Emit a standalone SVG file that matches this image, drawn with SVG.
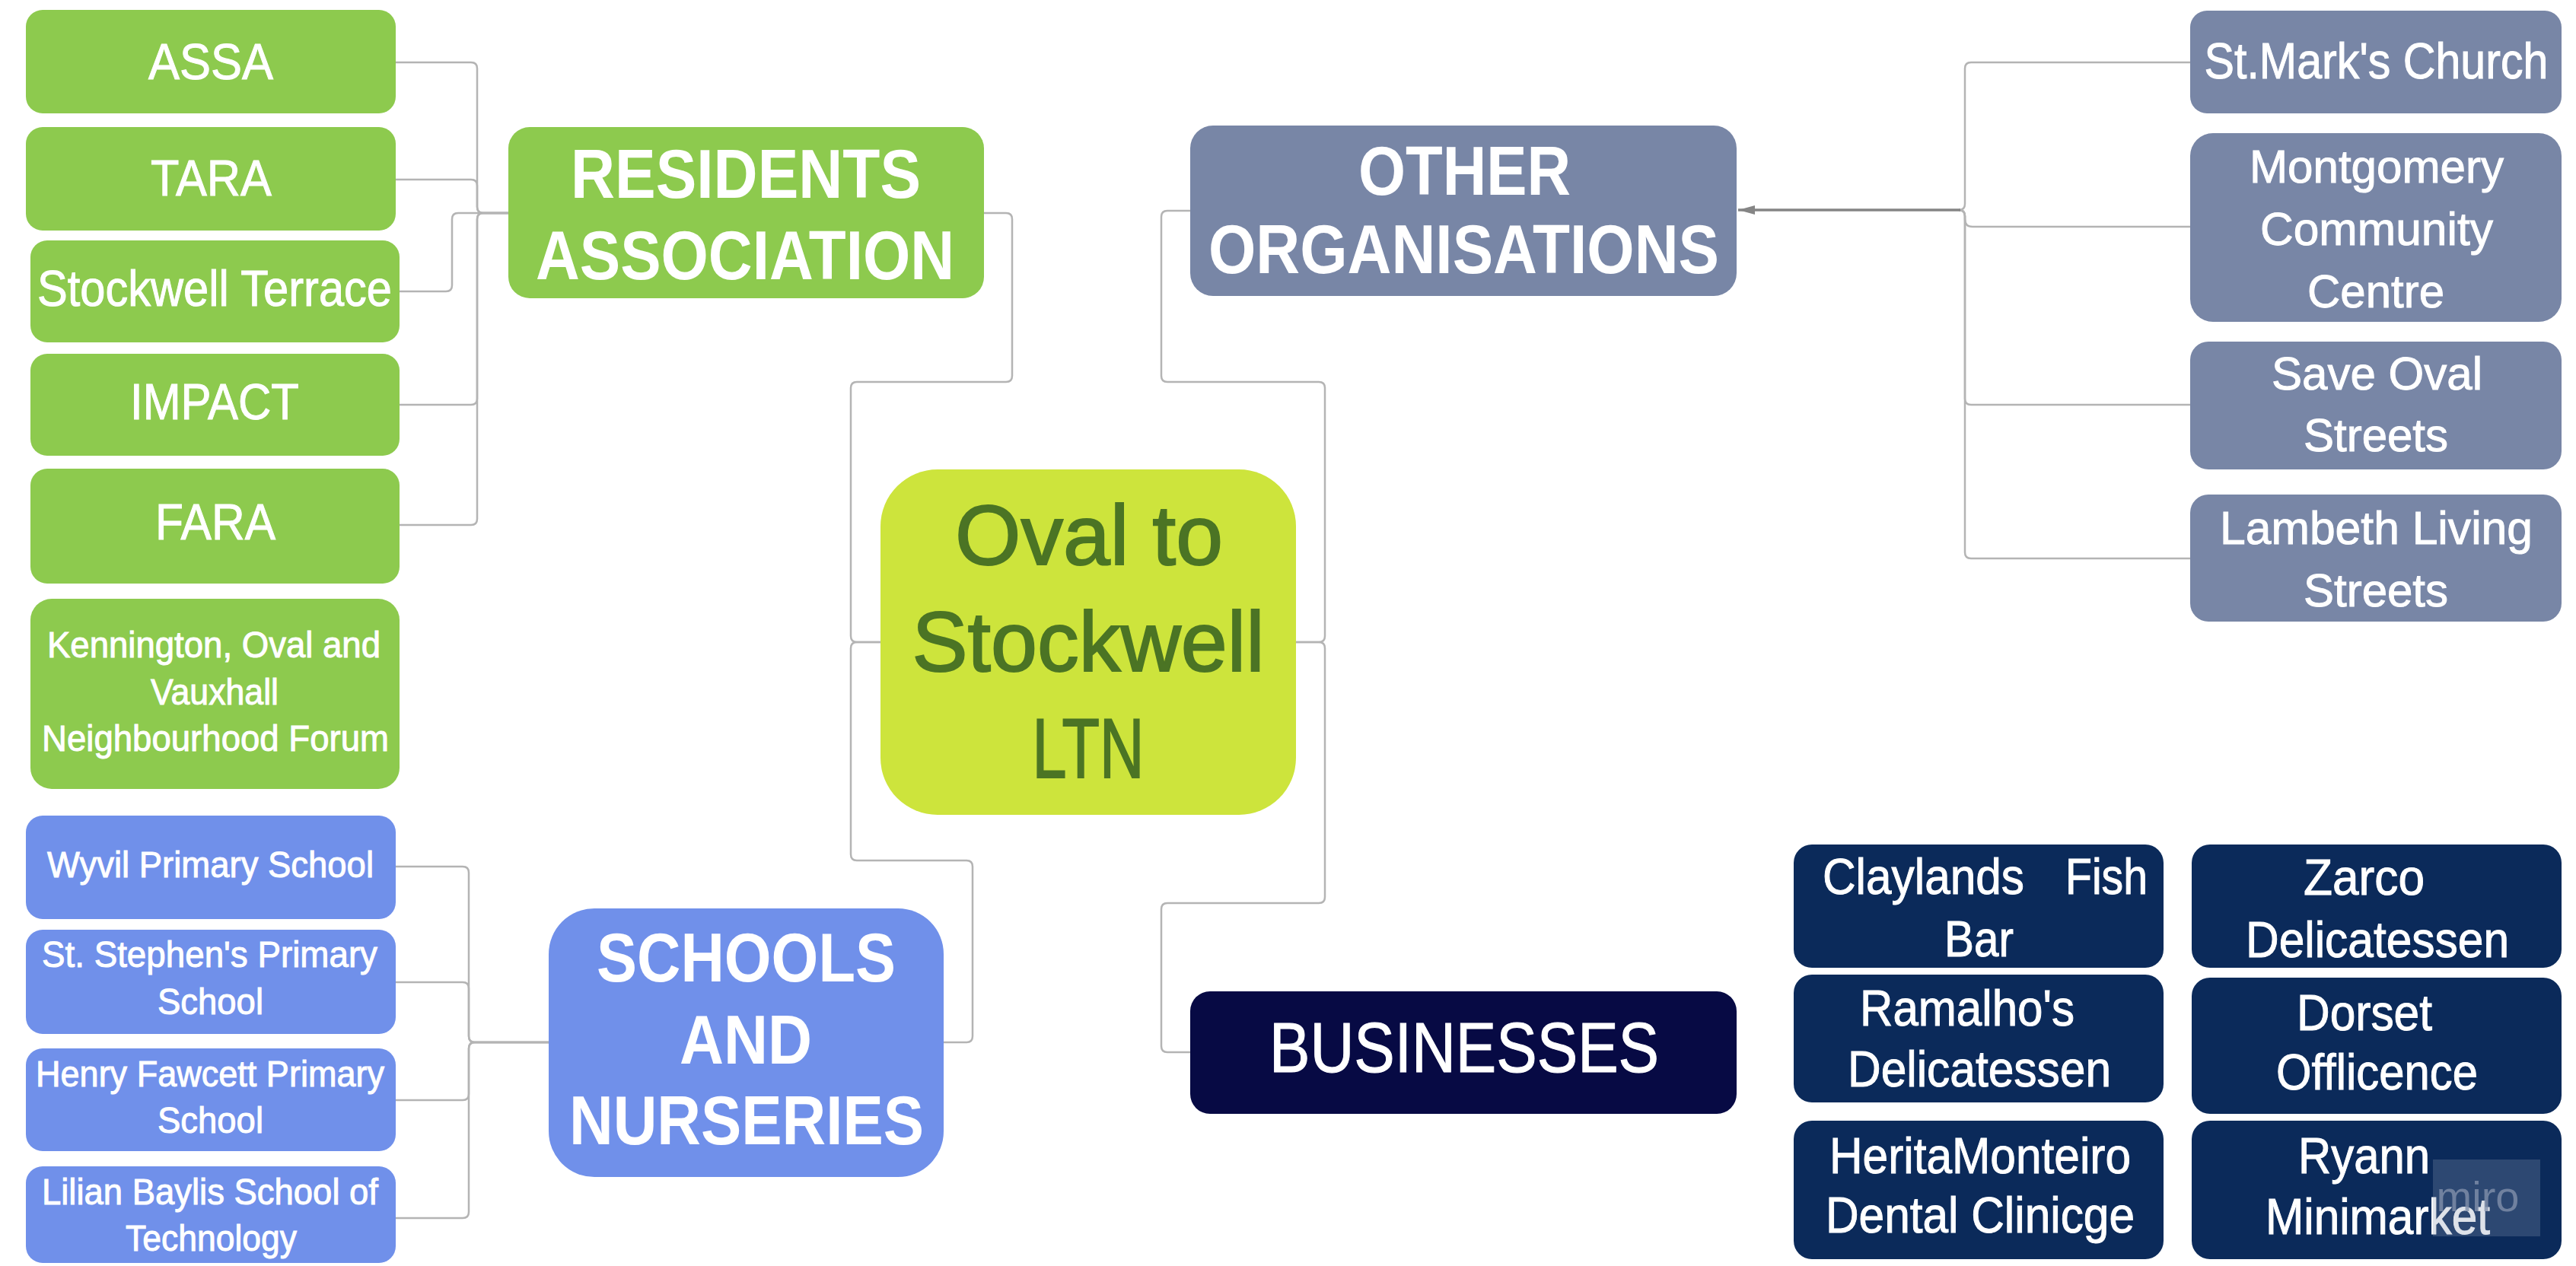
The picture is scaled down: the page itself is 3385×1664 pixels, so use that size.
<svg xmlns="http://www.w3.org/2000/svg" width="3385" height="1664" viewBox="0 0 3385 1664">
<defs>
<style>
text{font-family:"Liberation Sans Narrow","Liberation Sans",Arial,sans-serif;text-anchor:middle;fill:#fff;stroke:#fff;stroke-width:1}
.c{fill:none;stroke:#b4b4b4;stroke-width:2.5}
.ca{fill:none;stroke:#858585;stroke-width:3.5}
.g{fill:#8dca4e}
.b{fill:#7090ea}
.s{fill:#7886a6}
.n{fill:#0b2a5a}
.t66{font-size:66px}
.t62{font-size:62px}
.t49{font-size:49px}
.h{font-size:90px;font-weight:bold;stroke-width:0}
.o{font-size:112px;fill:#4b7424;stroke:#4b7424;stroke-width:2}
.w{font-size:56px;fill:#8190ab;stroke-width:0}
</style>
<marker id="arr" markerUnits="userSpaceOnUse" markerWidth="24" markerHeight="12" refX="22" refY="6" orient="auto">
<path d="M0,0 L22,6 L0,12 z" fill="#858585"/>
</marker>
</defs>
<rect width="3385" height="1664" fill="#fff"/>

<g id="connectors">
<path class="c" d="M668,280 H635 Q627,280 627,272 V90 Q627,82 619,82 H520"/>
<path class="c" d="M668,280 H635 Q627,280 627,272 V244 Q627,236 619,236 H520"/>
<path class="c" d="M668,280 H602 Q594,280 594,288 V375 Q594,383 586,383 H525"/>
<path class="c" d="M668,280 H635 Q627,280 627,288 V524 Q627,532 619,532 H525"/>
<path class="c" d="M668,280 H635 Q627,280 627,288 V682 Q627,690 619,690 H525"/>
<path class="c" d="M721,1370 H624 Q616,1370 616,1362 V1147 Q616,1139 608,1139 H520"/>
<path class="c" d="M721,1370 H624 Q616,1370 616,1362 V1299 Q616,1291 608,1291 H520"/>
<path class="c" d="M721,1370 H624 Q616,1370 616,1378 V1438 Q616,1446 608,1446 H520"/>
<path class="c" d="M721,1370 H624 Q616,1370 616,1378 V1593 Q616,1601 608,1601 H520"/>
<path class="c" d="M1157,844 H1126 Q1118,844 1118,836 V510 Q1118,502 1126,502 H1322 Q1330,502 1330,494 V288 Q1330,280 1322,280 H1293"/>
<path class="c" d="M1157,844 H1126 Q1118,844 1118,852 V1123 Q1118,1131 1126,1131 H1270 Q1278,1131 1278,1139 V1362 Q1278,1370 1270,1370 H1240"/>
<path class="c" d="M1703,844 H1733 Q1741,844 1741,836 V510 Q1741,502 1733,502 H1534 Q1526,502 1526,494 V285 Q1526,277 1534,277 H1564"/>
<path class="c" d="M1703,844 H1733 Q1741,844 1741,852 V1179 Q1741,1187 1733,1187 H1534 Q1526,1187 1526,1195 V1375 Q1526,1383 1534,1383 H1564"/>
<path class="c" d="M2878,82 H2590 Q2582,82 2582,90 V268 Q2582,276 2574,276"/>
<path class="c" d="M2878,298 H2592 Q2582,298 2582,288 V284 Q2582,276 2574,276"/>
<path class="c" d="M2878,532 H2590 Q2582,532 2582,524 V284 Q2582,276 2574,276"/>
<path class="c" d="M2878,734 H2590 Q2582,734 2582,726 V284 Q2582,276 2574,276"/>
<path class="ca" d="M2576,276 H2284" marker-end="url(#arr)"/>
</g>

<g id="assa"><rect class="g" x="34" y="13" width="486" height="136" rx="22"/><text class="t66" x="277" y="104" textLength="164" lengthAdjust="spacingAndGlyphs">ASSA</text></g>
<g id="tara"><rect class="g" x="34" y="167" width="486" height="136" rx="22"/><text class="t66" x="277.5" y="257" textLength="159" lengthAdjust="spacingAndGlyphs">TARA</text></g>
<g id="stockwell-terrace"><rect class="g" x="40" y="316" width="485" height="134" rx="22"/><text class="t66" x="282" y="402" textLength="466" lengthAdjust="spacingAndGlyphs">Stockwell Terrace</text></g>
<g id="impact"><rect class="g" x="40" y="465" width="485" height="134" rx="22"/><text class="t66" x="282" y="551" textLength="222" lengthAdjust="spacingAndGlyphs">IMPACT</text></g>
<g id="fara"><rect class="g" x="40" y="616" width="485" height="151" rx="22"/><text class="t66" x="283" y="709" textLength="158" lengthAdjust="spacingAndGlyphs">FARA</text></g>
<g id="kennington"><rect class="g" x="40" y="787" width="485" height="250" rx="28"/>
<text class="t49" x="281" y="864" textLength="438" lengthAdjust="spacingAndGlyphs">Kennington, Oval and</text>
<text class="t49" x="282" y="926" textLength="168" lengthAdjust="spacingAndGlyphs">Vauxhall</text>
<text class="t49" x="283" y="987" textLength="456" lengthAdjust="spacingAndGlyphs">Neighbourhood Forum</text></g>

<g id="residents"><rect class="g" x="668" y="167" width="625" height="225" rx="28"/>
<text class="h" x="980" y="260" textLength="460" lengthAdjust="spacingAndGlyphs">RESIDENTS</text>
<text class="h" x="979" y="367" textLength="550" lengthAdjust="spacingAndGlyphs">ASSOCIATION</text></g>

<g id="wyvil"><rect class="b" x="34" y="1072" width="486" height="136" rx="22"/><text class="t49" x="276.5" y="1153" textLength="429" lengthAdjust="spacingAndGlyphs">Wyvil Primary School</text></g>
<g id="st-stephens"><rect class="b" x="34" y="1222" width="486" height="137" rx="22"/>
<text class="t49" x="275.5" y="1271" textLength="441" lengthAdjust="spacingAndGlyphs">St. Stephen's Primary</text>
<text class="t49" x="276.5" y="1333" textLength="139" lengthAdjust="spacingAndGlyphs">School</text></g>
<g id="henry-fawcett"><rect class="b" x="34" y="1378" width="486" height="135" rx="22"/>
<text class="t49" x="276" y="1428" textLength="458" lengthAdjust="spacingAndGlyphs">Henry Fawcett Primary</text>
<text class="t49" x="276.5" y="1489" textLength="139" lengthAdjust="spacingAndGlyphs">School</text></g>
<g id="lilian-baylis"><rect class="b" x="34" y="1533" width="486" height="127" rx="22"/>
<text class="t49" x="276" y="1583" textLength="442" lengthAdjust="spacingAndGlyphs">Lilian Baylis School of</text>
<text class="t49" x="277.5" y="1644" textLength="225" lengthAdjust="spacingAndGlyphs">Technology</text></g>

<g id="schools"><rect class="b" x="721" y="1194" width="519" height="353" rx="60"/>
<text class="h" x="980.5" y="1290" textLength="393" lengthAdjust="spacingAndGlyphs">SCHOOLS</text>
<text class="h" x="980" y="1398" textLength="174" lengthAdjust="spacingAndGlyphs">AND</text>
<text class="h" x="981" y="1504" textLength="466" lengthAdjust="spacingAndGlyphs">NURSERIES</text></g>

<g id="oval"><rect x="1157" y="617" width="546" height="454" rx="75" fill="#cde43c"/>
<text class="o" x="1431" y="742" textLength="352" lengthAdjust="spacingAndGlyphs">Oval to</text>
<text class="o" x="1430" y="882" textLength="463" lengthAdjust="spacingAndGlyphs">Stockwell</text>
<text class="o" x="1430" y="1022" textLength="147" lengthAdjust="spacingAndGlyphs">LTN</text></g>

<g id="other"><rect class="s" x="1564" y="165" width="718" height="224" rx="30"/>
<text class="h" x="1924.5" y="256" textLength="279" lengthAdjust="spacingAndGlyphs">OTHER</text>
<text class="h" x="1923.5" y="359" textLength="671" lengthAdjust="spacingAndGlyphs">ORGANISATIONS</text></g>

<g id="businesses"><rect x="1564" y="1303" width="718" height="161" rx="26" fill="#070a44"/>
<text x="1924" y="1409" font-size="92" textLength="512" lengthAdjust="spacingAndGlyphs">BUSINESSES</text></g>

<g id="st-marks"><rect class="s" x="2878" y="14" width="488" height="135" rx="22"/><text class="t66" x="3122.5" y="103" textLength="452" lengthAdjust="spacingAndGlyphs">St.Mark's Church</text></g>
<g id="montgomery"><rect class="s" x="2878" y="175" width="488" height="248" rx="30"/>
<text class="t62" x="3123" y="240" textLength="334" lengthAdjust="spacingAndGlyphs">Montgomery</text>
<text class="t62" x="3123" y="322" textLength="306" lengthAdjust="spacingAndGlyphs">Community</text>
<text class="t62" x="3122" y="404" textLength="180" lengthAdjust="spacingAndGlyphs">Centre</text></g>
<g id="save-oval"><rect class="s" x="2878" y="449" width="488" height="168" rx="24"/>
<text class="t62" x="3123.5" y="512" textLength="277" lengthAdjust="spacingAndGlyphs">Save Oval</text>
<text class="t62" x="3122" y="593" textLength="190" lengthAdjust="spacingAndGlyphs">Streets</text></g>
<g id="lambeth"><rect class="s" x="2878" y="650" width="488" height="167" rx="24"/>
<text class="t62" x="3122.5" y="715" textLength="411" lengthAdjust="spacingAndGlyphs">Lambeth Living</text>
<text class="t62" x="3122" y="797" textLength="190" lengthAdjust="spacingAndGlyphs">Streets</text></g>

<g id="claylands"><rect class="n" x="2357" y="1110" width="486" height="162" rx="24"/>
<text class="t66" y="1175"><tspan x="2395" style="text-anchor:start" textLength="265" lengthAdjust="spacingAndGlyphs">Claylands</tspan><tspan x="2822" style="text-anchor:end" textLength="108" lengthAdjust="spacingAndGlyphs">Fish</tspan></text>
<text class="t66" x="2600.5" y="1257" textLength="91" lengthAdjust="spacingAndGlyphs">Bar</text></g>
<g id="zarco"><rect class="n" x="2880" y="1110" width="486" height="162" rx="24"/>
<text class="t66" x="3106.5" y="1176" textLength="159" lengthAdjust="spacingAndGlyphs">Zarco</text>
<text class="t66" x="3124" y="1258" textLength="346" lengthAdjust="spacingAndGlyphs">Delicatessen</text></g>
<g id="ramalhos"><rect class="n" x="2357" y="1281" width="486" height="168" rx="24"/>
<text class="t66" x="2585" y="1348" textLength="282" lengthAdjust="spacingAndGlyphs">Ramalho's</text>
<text class="t66" x="2601" y="1428" textLength="346" lengthAdjust="spacingAndGlyphs">Delicatessen</text></g>
<g id="dorset"><rect class="n" x="2880" y="1285" width="486" height="179" rx="24"/>
<text class="t66" x="3107" y="1354" textLength="178" lengthAdjust="spacingAndGlyphs">Dorset</text>
<text class="t66" x="3123.5" y="1432" textLength="265" lengthAdjust="spacingAndGlyphs">Offlicence</text></g>
<g id="herita"><rect class="n" x="2357" y="1473" width="486" height="182" rx="24"/>
<text class="t66" x="2602" y="1542" textLength="396" lengthAdjust="spacingAndGlyphs">HeritaMonteiro</text>
<text class="t66" x="2602" y="1620" textLength="406" lengthAdjust="spacingAndGlyphs">Dental Clinicge</text></g>
<g id="ryann"><rect class="n" x="2880" y="1473" width="486" height="182" rx="24"/>
<text class="t66" x="3106.5" y="1542" textLength="173" lengthAdjust="spacingAndGlyphs">Ryann</text>
<text class="t66" x="3124.5" y="1622" textLength="295" lengthAdjust="spacingAndGlyphs">Minimarket</text></g>

<g id="watermark"><rect x="3197" y="1524" width="141" height="101" fill="#8a97b0" opacity="0.28"/>
<text class="w" x="3256" y="1592" opacity="0.8">miro</text></g>
</svg>
